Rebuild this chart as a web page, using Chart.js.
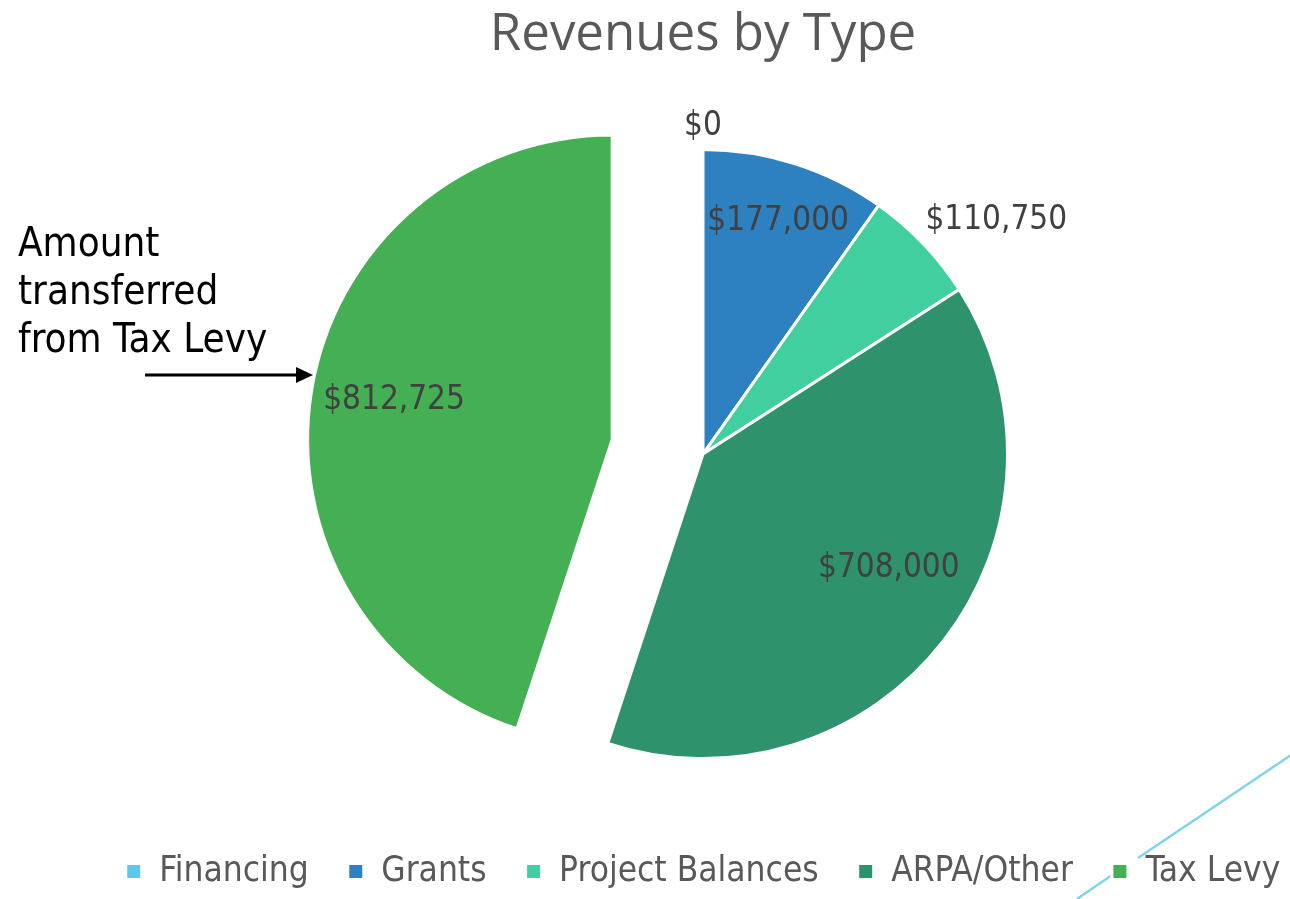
<!DOCTYPE html>
<html>
<head>
<meta charset="utf-8">
<script src="https://cdn.jsdelivr.net/npm/chart.js@4.4.1/dist/chart.umd.min.js"></script>
<style>
  html, body { margin: 0; padding: 0; background: #fff; overflow: hidden; }
  /* the slide is wider than the visible crop, so the chart centres at x=703 */
  #wrap { width: 1406px; height: 899px; position: relative; }
</style>
</head>
<body>
<div id="wrap"><canvas id="revChart"></canvas></div>
<script>
// data
const categories = ["Financing", "Grants", "Project Balances", "ARPA/Other", "Tax Levy"];
const revenues = [0, 177000, 110750, 708000, 812725];

// styling
const sliceColors = ["#5bc8ee", "#2e81c1", "#42cfa0", "#2e936d", "#44af53"];
const sliceExplode = [0, 0, 0, 0, 92];
// label placement: fraction of radius, angle nudge in degrees
const labelRadius = [1.09, 0.815, 1.24, 0.71, 0.73];
const labelNudge = [0, 0, 4.7, -7, 2];

const labelFont = "'DejaVu Sans Condensed', 'DejaVu Sans', sans-serif";

function money(v) {
  return "$" + v.toLocaleString("en-US");
}

// pull a slice out without growing its radius (chart.js offset also enlarges it)
const explodeSlices = {
  id: "explodeSlices",
  beforeDatasetsDraw(chart) {
    chart.getDatasetMeta(0).data.forEach((arc, i) => {
      const d = sliceExplode[i];
      if (!d || arc._exploded) return;
      const baseDraw = arc.draw.bind(arc);
      arc.draw = function (ctx) {
        const mid = (this.startAngle + this.endAngle) / 2;
        ctx.save();
        ctx.translate(Math.cos(mid) * d, Math.sin(mid) * d);
        baseDraw(ctx);
        ctx.restore();
      };
      arc._exploded = true;
    });
  },
};

const valueLabels = {
  id: "valueLabels",
  afterDatasetsDraw(chart) {
    const ctx = chart.ctx;
    ctx.save();
    ctx.font = "33px " + labelFont;
    ctx.fillStyle = "#404040";
    ctx.textAlign = "center";
    ctx.textBaseline = "middle";
    chart.getDatasetMeta(0).data.forEach((arc, i) => {
      const p = arc.getProps(["x", "y", "startAngle", "endAngle", "outerRadius"], true);
      const mid = (p.startAngle + p.endAngle) / 2;
      const cx = p.x + Math.cos(mid) * sliceExplode[i];
      const cy = p.y + Math.sin(mid) * sliceExplode[i];
      const a = mid + labelNudge[i] * Math.PI / 180;
      const r = p.outerRadius * labelRadius[i];
      // +4: digits sit a little below the font's middle line
      ctx.fillText(money(revenues[i]), cx + Math.cos(a) * r, cy + Math.sin(a) * r + 4);
    });
    ctx.restore();
  },
};

// callout text + arrow on the left, and the slide's thin decorative line
const slideExtras = {
  id: "slideExtras",
  beforeDraw(chart) {
    const ctx = chart.ctx;
    ctx.save();
    ctx.strokeStyle = "#7fd4ea";
    ctx.lineWidth = 2.5;
    ctx.beginPath();
    ctx.moveTo(1077, 899);
    ctx.lineTo(1115, 873);
    ctx.moveTo(1138, 858);
    ctx.lineTo(1300, 749);
    ctx.stroke();
    ctx.restore();
  },
  afterDraw(chart) {
    const ctx = chart.ctx;
    ctx.save();
    ctx.fillStyle = "#000";
    ctx.font = "40px " + labelFont;
    ctx.textAlign = "left";
    ctx.textBaseline = "alphabetic";
    ctx.fillText("Amount", 18, 256);
    ctx.fillText("transferred", 18, 304);
    ctx.fillText("from Tax Levy", 18, 352);
    ctx.strokeStyle = "#000";
    ctx.lineWidth = 3;
    ctx.beginPath();
    ctx.moveTo(145, 375);
    ctx.lineTo(300, 375);
    ctx.stroke();
    ctx.beginPath();
    ctx.moveTo(313, 375);
    ctx.lineTo(296, 367);
    ctx.lineTo(296, 383);
    ctx.closePath();
    ctx.fill();
    ctx.restore();
  },
};

new Chart(document.getElementById("revChart"), {
  type: "pie",
  data: {
    labels: categories,
    datasets: [
      {
        data: revenues,
        backgroundColor: sliceColors,
        borderColor: "#ffffff",
        borderWidth: 3,
      },
    ],
  },
  options: {
    responsive: true,
    maintainAspectRatio: false,
    animation: false,
    radius: 304.5,
    layout: { padding: 0 },
    plugins: {
      title: {
        display: true,
        text: "Revenues by Type",
        color: "#595959",
        font: { family: "'Open Sans', 'Noto Sans', sans-serif", size: 51, weight: "normal" },
        padding: { top: 5, bottom: 27 },
      },
      legend: {
        position: "bottom",
        labels: {
          color: "#595959",
          font: { family: labelFont, size: 35 },
          boxWidth: 16,
          boxHeight: 16,
          padding: 39,
        },
      },
      tooltip: { enabled: false },
    },
  },
  plugins: [explodeSlices, valueLabels, slideExtras],
});
</script>
</body>
</html>
